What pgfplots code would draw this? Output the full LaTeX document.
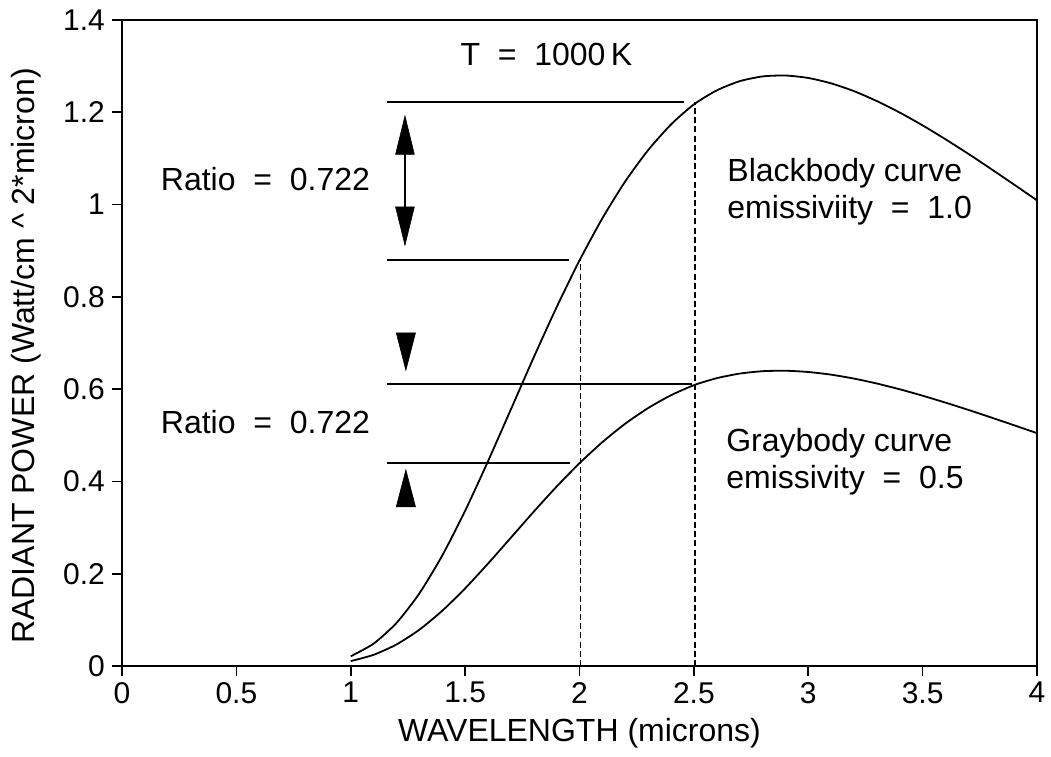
\documentclass[border=0pt]{standalone}
\usepackage{fontspec}
\setmainfont{Liberation Sans}
\usepackage{pgfplots}
\pgfplotsset{compat=1.18}
\newcommand{\lf}{\fontsize{16}{18.5}\selectfont}
\newcommand{\tf}{\fontsize{15}{17}\selectfont}
\begin{document}
\begin{tikzpicture}
\begin{axis}[
  scale only axis,
  width=457.5pt, height=323pt,
  xmin=0, xmax=4, ymin=0, ymax=1.4,
  xtick={0,0.5,1,1.5,2,2.5,3,3.5,4},
  ytick={0,0.2,0.4,0.6,0.8,1,1.2,1.4},
  tick align=outside, tick pos=left,
  major tick length=5pt,
  /pgf/number format/assume math mode=true,
  /pgf/number format/fixed,
  tick label style={font=\tf},
  xticklabel style={yshift=0.5pt},
  yticklabel style={xshift=0pt},
  axis line style={line width=0.9pt},
  every tick/.style={line width=0.8pt, black},
  xlabel={WAVELENGTH (microns)},
  ylabel={RADIANT POWER (Watt/cm\ \^{}\ 2*micron)},
  xlabel style={font=\lf, at={(axis description cs:0.5,-0.104)}, anchor=center},
  ylabel style={font=\lf, at={(axis description cs:-0.105,0.48)}, anchor=center, rotate=0},
  clip=false,
]
\coordinate (SW) at (rel axis cs:0,0);
\coordinate (NE) at (rel axis cs:1,1);
% Blackbody curve (emissivity 1.0)
\addplot[black, line width=0.9pt, smooth, tension=0.4] coordinates {
(1.0,0.0211) (1.1,0.0485) (1.2,0.0933) (1.3,0.1573) (1.4,0.2394)
(1.5,0.3364) (1.6,0.4437) (1.7,0.5561) (1.8,0.6690) (1.9,0.7777)
(2.0,0.8789) (2.1,0.9703) (2.2,1.0503) (2.3,1.1180) (2.4,1.1736)
(2.5,1.2171) (2.6,1.2475) (2.7,1.2674) (2.8,1.2777) (2.9,1.2797)
(3.0,1.2744) (3.1,1.2627) (3.2,1.2458) (3.3,1.2243) (3.4,1.1994)
(3.5,1.1716) (3.6,1.1415) (3.7,1.1099) (3.8,1.0769) (3.9,1.0433)
(4.0,1.0091)};
% Graybody curve (emissivity 0.5)
\addplot[black, line width=0.9pt, smooth, tension=0.4] coordinates {
(1.0,0.0106) (1.1,0.0243) (1.2,0.0467) (1.3,0.0787) (1.4,0.1197)
(1.5,0.1682) (1.6,0.2219) (1.7,0.2781) (1.8,0.3345) (1.9,0.3889)
(2.0,0.4395) (2.1,0.4852) (2.2,0.5252) (2.3,0.5590) (2.4,0.5868)
(2.5,0.6086) (2.6,0.6238) (2.7,0.6337) (2.8,0.6389) (2.9,0.6399)
(3.0,0.6372) (3.1,0.6314) (3.2,0.6229) (3.3,0.6122) (3.4,0.5997)
(3.5,0.5858) (3.6,0.5708) (3.7,0.5550) (3.8,0.5385) (3.9,0.5217)
(4.0,0.5046)};
% horizontal reference lines
\addplot[black, line width=0.8pt] coordinates {(1.157,1.222) (2.457,1.222)};
\addplot[black, line width=0.8pt] coordinates {(1.157,0.880) (1.955,0.880)};
\addplot[black, line width=0.8pt] coordinates {(1.157,0.611) (2.490,0.611)};
\addplot[black, line width=0.8pt] coordinates {(1.157,0.440) (1.960,0.440)};
% dashed verticals
\addplot[black, line width=0.8pt, dash pattern=on 3pt off 1.6pt] coordinates {(2.005,0) (2.005,0.88)};
\addplot[black, line width=0.8pt, dash pattern=on 3pt off 1.6pt] coordinates {(2.505,0) (2.505,1.222)};
% double arrow (upper)
\addplot[black, line width=0.8pt] coordinates {(1.237,1.112) (1.237,0.992)};
\addplot[black, fill=black, line width=0.3pt] coordinates {(1.237,1.192) (1.196,1.109) (1.278,1.109)} -- cycle;
\addplot[black, fill=black, line width=0.3pt] coordinates {(1.237,0.912) (1.196,0.995) (1.278,0.995)} -- cycle;
% lower triangles
\addplot[black, fill=black, line width=0.3pt] coordinates {(1.241,0.641) (1.199,0.722) (1.283,0.722)} -- cycle;
\addplot[black, fill=black, line width=0.3pt] coordinates {(1.241,0.425) (1.199,0.345) (1.283,0.345)} -- cycle;
% texts
\node[font=\lf, inner sep=0pt] at (axis cs:1.855,1.325) {T\ \ =\ \ 1000\,K};
\node[font=\lf, inner sep=0pt] at (axis cs:0.627,1.056) {Ratio\ \ =\ \ 0.722};
\node[font=\lf, inner sep=0pt] at (axis cs:0.627,0.529) {Ratio\ \ =\ \ 0.722};
\node[font=\lf, inner sep=0pt, anchor=west, align=left] at (axis cs:2.645,1.028) {Blackbody curve\\emissiviity\ \ =\ \ 1.0};
\node[font=\lf, inner sep=0pt, anchor=west, align=left] at (axis cs:2.64,0.4425) {Graybody curve\\emissivity\ \ =\ \ 0.5};
\end{axis}
\pgfresetboundingbox
\path ([shift={(-61pt,-45pt)}]SW) rectangle ([shift={(7pt,10pt)}]NE);
\end{tikzpicture}
\end{document}
